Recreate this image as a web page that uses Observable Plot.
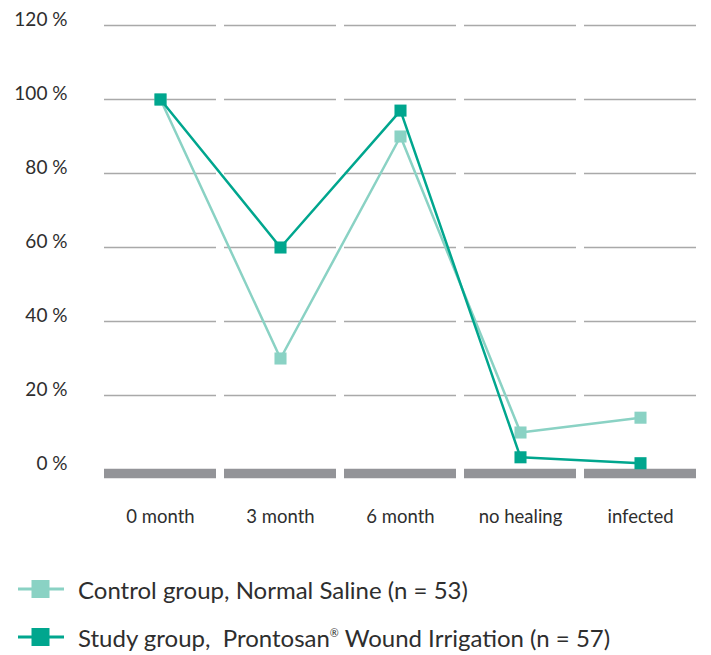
<!DOCTYPE html>
<html>
<head>
<meta charset="utf-8">
<script src="https://cdn.jsdelivr.net/npm/d3@7"></script>
<script src="https://cdn.jsdelivr.net/npm/@observablehq/plot@0.6"></script>
<style>
  html, body { margin: 0; padding: 0; background: #fff; }
  body { width: 711px; height: 655px; overflow: hidden; font-family: Lato, "Open Sans", sans-serif; color: #2e2e2e; }
  #legend { margin-top: 20px; }
  .row { display: flex; align-items: center; height: 48px; }
  .row svg { margin-left: 18px; margin-right: 14px; flex: none; }
  .row span { font-size: 24px; white-space: pre; }
  sup { font-size: 0.45em; vertical-align: 0.9em; }
</style>
</head>
<body>
<div id="chart"></div>
<div id="legend"></div>
<script>
const categories = ["0 month", "3 month", "6 month", "no healing", "infected"];
const controlValues = [100, 30, 90, 10, 14];
const studyValues = [100, 60, 97, 3.3, 1.7];
const yTicks = [0, 20, 40, 60, 80, 100, 120];
const gridValues = [20, 40, 60, 80, 100, 120];
const seriesNames = ["Control group, Normal Saline (n = 53)", "Study group,  Prontosan® Wound Irrigation (n = 57)"];
const colors = { control: "#8ad2c4", study: "#00a68e" };

const control = categories.map((c, i) => ({ cat: c, v: controlValues[i] }));
const study = categories.map((c, i) => ({ cat: c, v: studyValues[i] }));
const grid = categories.flatMap(c => gridValues.map(v => ({ cat: c, v })));
const base = categories.map(c => ({ cat: c, v: 0 }));

const chart = Plot.plot({
  width: 711,
  height: 545,
  marginTop: 25,
  marginBottom: 76,
  marginLeft: 102,
  marginRight: 13.5,
  style: { fontFamily: "Lato, 'Open Sans', sans-serif", color: "#2e2e2e", background: "#fff" },
  x: { type: "band", domain: categories, paddingInner: 0.063, paddingOuter: 0 },
  y: { domain: [0, 120] },
  marks: [
    Plot.tickY(grid, { x: "cat", y: "v", stroke: "#a9a9a9", strokeWidth: 1.5 }),
    Plot.tickY(base, { x: "cat", y: "v", stroke: "#939498", strokeWidth: 9.5, dy: 4 }),
    Plot.axisY({ ticks: yTicks, tickSize: 0, tickPadding: 35, tickFormat: d => d + " %", fontSize: 19, dy: -5.5, label: null }),
    Plot.axisX({ tickSize: 0, tickPadding: 40, fontSize: 18.5, label: null }),
    Plot.line(control, { x: "cat", y: "v", stroke: colors.control, strokeWidth: 2.5 }),
    Plot.dot(control, { x: "cat", y: "v", symbol: "square", r: 6.8, fill: colors.control }),
    Plot.line(study, { x: "cat", y: "v", stroke: colors.study, strokeWidth: 2.5 }),
    Plot.dot(study, { x: "cat", y: "v", symbol: "square", r: 6.8, fill: colors.study })
  ]
});
document.getElementById("chart").appendChild(chart);

const legend = document.getElementById("legend");
[["control", seriesNames[0]], ["study", seriesNames[1]]].forEach(([k, name]) => {
  const row = document.createElement("div");
  row.className = "row";
  const c = colors[k];
  row.innerHTML = `<svg width="46" height="20"><line x1="0" x2="46" y1="10" y2="10" stroke="${c}" stroke-width="3"/><rect x="13.5" y="1" width="18" height="18" fill="${c}"/></svg>`;
  const span = document.createElement("span");
  span.innerHTML = name.replace("®", "<sup>®</sup>");
  row.appendChild(span);
  legend.appendChild(row);
});
</script>
</body>
</html>
